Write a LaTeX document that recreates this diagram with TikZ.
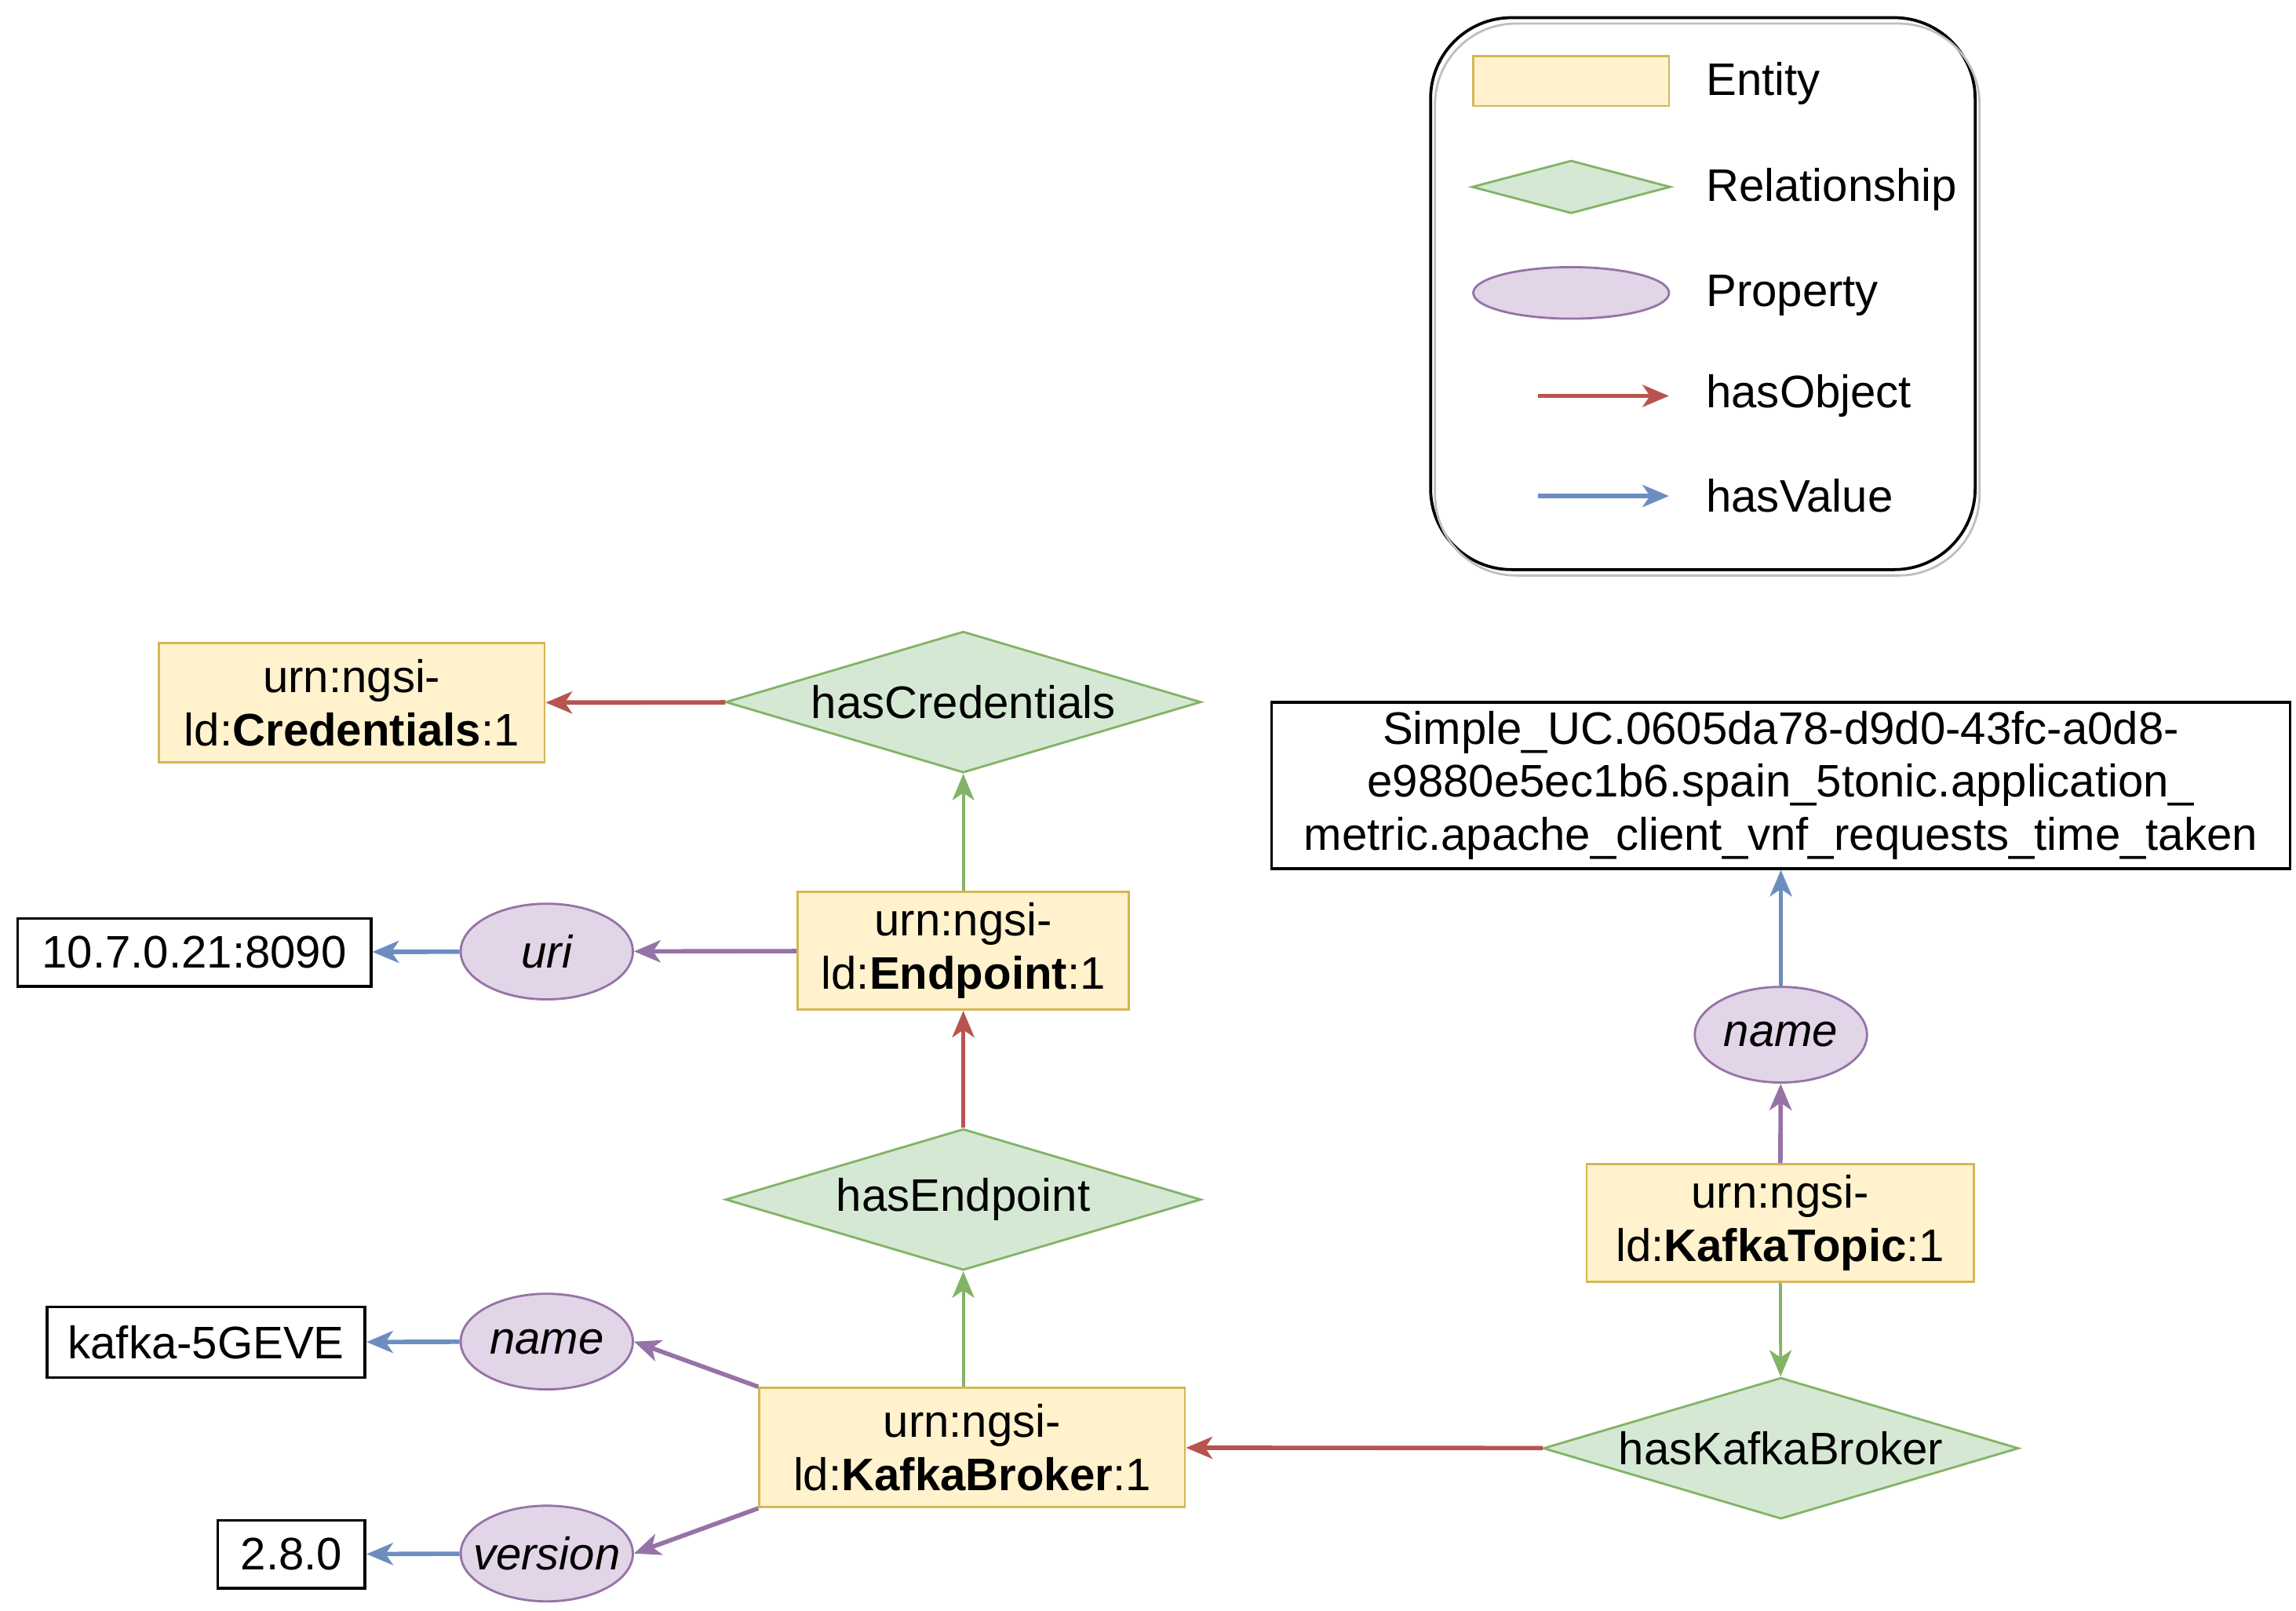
\documentclass[tikz,border=0pt]{standalone}
\usepackage{fontspec}
\setmainfont{Liberation Sans}
\usetikzlibrary{shapes.geometric,arrows.meta}

\definecolor{entfill}{HTML}{FFF2CC}
\definecolor{entline}{HTML}{D6B656}
\definecolor{relfill}{HTML}{D5E8D4}
\definecolor{relline}{HTML}{82B366}
\definecolor{propfill}{HTML}{E1D5E7}
\definecolor{propline}{HTML}{9673A6}
\definecolor{objline}{HTML}{B85450}
\definecolor{valline}{HTML}{6C8EBF}

\tikzset{
  every node/.style={font=\fontsize{31}{36}\selectfont, inner sep=0pt},
  entity/.style={draw=entline, fill=entfill, line width=1.5pt, align=center},
  relation/.style={diamond, draw=relline, fill=relfill, line width=1.5pt,
    minimum width=323, minimum height=96, shape aspect=3.36},
  property/.style={ellipse, draw=propline, fill=propfill, line width=1.5pt,
    minimum width=117, minimum height=65, font=\fontsize{31}{36}\selectfont\itshape},
  valuebox/.style={draw=black, line width=2pt, align=center},
  tip/.style={-{Stealth[length=18pt, width=15pt, inset=5pt]}},
  hasobj/.style={tip, draw=objline, line width=3pt},
  hasval/.style={tip, draw=valline, line width=3pt},
  hasprop/.style={tip, draw=propline, line width=3pt},
  hasrel/.style={tip, draw=relline, line width=2pt},
}

\begin{document}
\begin{tikzpicture}[x=1pt, y=-1pt]
            \useasboundingbox (0,0) rectangle (1560,1094.55);

            % legend
            \draw [line width=2pt, rounded corners=55pt] (972,12) rectangle (1342,387);
            \draw [line width=1.5pt, black!25, rounded corners=55pt] (975,16) rectangle (1345,391);
            \node [entity, minimum width=133, minimum height=34] (legent) at (1067.5,55) {};
            \node [relation, minimum width=135, minimum height=36] (legrel) at (1067.5,127) {};
            \node [property, minimum width=133, minimum height=35] (legprop) at (1067.5,199) {};
            \coordinate (legobja) at (1045,269);
            \coordinate (legobjb) at (1134,269);
            \coordinate (legvala) at (1045,337);
            \coordinate (legvalb) at (1134,337);
            \draw [hasobj] (legobja) -- (legobjb);
            \draw [hasval] (legvala) -- (legvalb);
            \node [anchor=west] at (1159,57) {Entity};
            \node [anchor=west] at (1159,129) {Relationship};
            \node [anchor=west] at (1159,201) {Property};
            \node [anchor=west] at (1159,269) {hasObject};
            \node [anchor=west] at (1159,337) {hasValue};

            % entities
            \node [entity, minimum width=262, minimum height=81] (cred) at (239,477.5)
                {urn:ngsi-\\ld:\textbf{Credentials}:1};
            \node [entity, minimum width=225, minimum height=80] (endp) at (654.5,646)
                {urn:ngsi-\\ld:\textbf{Endpoint}:1};
            \node [entity, minimum width=289, minimum height=81] (broker) at (660.5,983.5)
                {urn:ngsi-\\ld:\textbf{KafkaBroker}:1};
            \node [entity, minimum width=263, minimum height=80] (topic) at (1209.5,831)
                {urn:ngsi-\\ld:\textbf{KafkaTopic}:1};

            % relationships
            \node [relation] (hascred) at (654.5,477) {hasCredentials};
            \node [relation] (hasendp) at (654.5,815) {hasEndpoint};
            \node [relation] (hasbroker) at (1210,984) {hasKafkaBroker};

            % properties
            \node [property] (uri) at (371.5,646.5) {uri};
            \node [property] (bname) at (371.5,911.5) {name};
            \node [property] (bversion) at (371.5,1055.5) {\makebox[0pt]{version}};
            \node [property] (tname) at (1210,703) {name};

            % values
            \node [valuebox, minimum width=240, minimum height=46] (urival) at (132,647) {10.7.0.21:8090};
            \node [valuebox, minimum width=216, minimum height=48] (bnameval) at (140,912) {kafka-5GEVE};
            \node [valuebox, minimum width=100, minimum height=46] (bverval) at (198,1056) {2.8.0};
            \node [valuebox, minimum width=692, minimum height=113] (tnameval) at (1210,533.5)
                {Simple\_UC.0605da78-d9d0-43fc-a0d8-\\e9880e5ec1b6.spain\_5tonic.application\_\\metric.apache\_client\_vnf\_requests\_time\_taken};

            % connectors
            \draw [hasobj] (hascred) -- (cred);
            \draw [hasrel] (endp) -- (hascred);
            \draw [hasprop] (endp) -- (uri);
            \draw [hasval] (uri) -- (urival);
            \draw [hasobj] (hasendp) -- (endp);
            \draw [hasrel] (broker.north -| hasendp.south) -- (hasendp.south);
            \draw [hasprop] (broker.north west) -- (bname.east);
            \draw [hasprop] (broker.south west) -- (bversion.east);
            \draw [hasval] (bname) -- (bnameval);
            \draw [hasval] (bversion) -- (bverval);
            \draw [hasprop] (topic) -- (tname);
            \draw [hasval] (tname) -- (tnameval);
            \draw [hasrel] (topic) -- (hasbroker);
            \draw [hasobj] (hasbroker) -- (broker);
\end{tikzpicture}
\end{document}
